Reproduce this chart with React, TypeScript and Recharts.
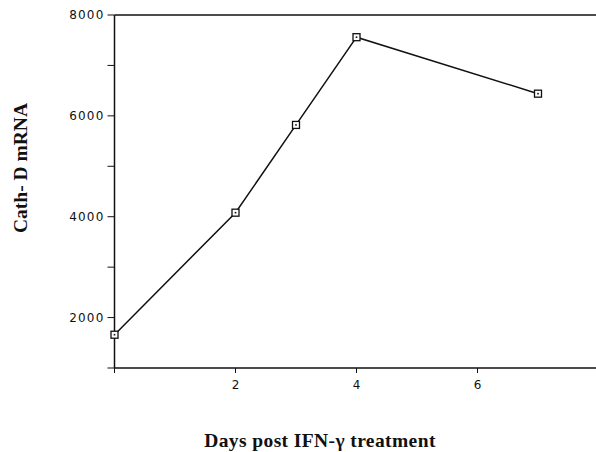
import { Label, Line, LineChart, ReferenceLine, XAxis, YAxis } from "recharts";

const days = [0, 2, 3, 4, 7];
const cathD = [1660, 4080, 5820, 7560, 6440];

const xTicks = [0, 2, 4, 6, 8];
const yTicks = [1000, 2000, 3000, 4000, 5000, 6000, 7000, 8000];
const yLabelled = [2000, 4000, 6000, 8000];

const data = days.map((d, i) => ({ day: d, value: cathD[i] }));

const tickFont = { fontFamily: "DejaVu Sans", fontSize: 12, fill: "#111" };
const titleFont = { fontFamily: "Liberation Serif", fontWeight: 700, fontSize: 19.5, fill: "#111" };

function SquareDot(props: any) {
  const { cx, cy } = props;
  if (cx == null || cy == null) return null;
  return (
    <g>
      <rect x={cx - 3.5} y={cy - 3.5} width={7} height={7} fill="#fff" stroke="#111" strokeWidth={1.3} />
      <rect x={cx - 0.8} y={cy - 0.8} width={1.6} height={1.6} fill="#111" />
    </g>
  );
}

function YTick(props: any) {
  const { x, y, payload } = props;
  const show = yLabelled.includes(payload.value);
  return (
    <text x={x - 1} y={y} dy={4} textAnchor="end" {...tickFont} letterSpacing={1.2}>
      {show ? payload.value : ""}
    </text>
  );
}

function XTick(props: any) {
  const { x, y, payload } = props;
  const show = payload.value === 2 || payload.value === 4 || payload.value === 6;
  return (
    <text x={x} y={y} dy={14} textAnchor="middle" {...tickFont}>
      {show ? payload.value : ""}
    </text>
  );
}

// titles sit off-centre in the original, so place them directly
const xTitle = () => (
  <text x={320} y={447} textAnchor="middle" {...titleFont} letterSpacing={0.4}>
    Days post IFN-γ treatment
  </text>
);

const yTitle = () => (
  <text
    x={27}
    y={168}
    textAnchor="middle"
    transform="rotate(-90 27 168)"
    {...titleFont}
  >
    Cath- D mRNA
  </text>
);

export default function App() {
  return (
    <div style={{ position: "absolute", left: 0, top: 0, width: 596, height: 452, background: "#fff" }}>
      <LineChart width={596} height={452} data={data} margin={{ top: 15, right: -2.5, left: 0, bottom: 0 }}>
        <XAxis
          dataKey="day"
          type="number"
          domain={[0, 8]}
          ticks={xTicks}
          tick={<XTick />}
          tickSize={5}
          height={84}
          axisLine={{ stroke: "#111", strokeWidth: 1.5 }}
          tickLine={{ stroke: "#111" }}
        >
          <Label content={xTitle} />
        </XAxis>
        <YAxis
          type="number"
          domain={[1000, 8000]}
          ticks={yTicks}
          tick={<YTick />}
          tickSize={7}
          width={114.5}
          axisLine={{ stroke: "#111", strokeWidth: 1.5 }}
          tickLine={{ stroke: "#111" }}
          interval={0}
        >
          <Label content={yTitle} />
        </YAxis>
        <ReferenceLine y={8000} stroke="#111" strokeWidth={1.5} />
        <Line
          type="linear"
          dataKey="value"
          stroke="#111"
          strokeWidth={1.5}
          dot={<SquareDot />}
          isAnimationActive={false}
        />
      </LineChart>
    </div>
  );
}
